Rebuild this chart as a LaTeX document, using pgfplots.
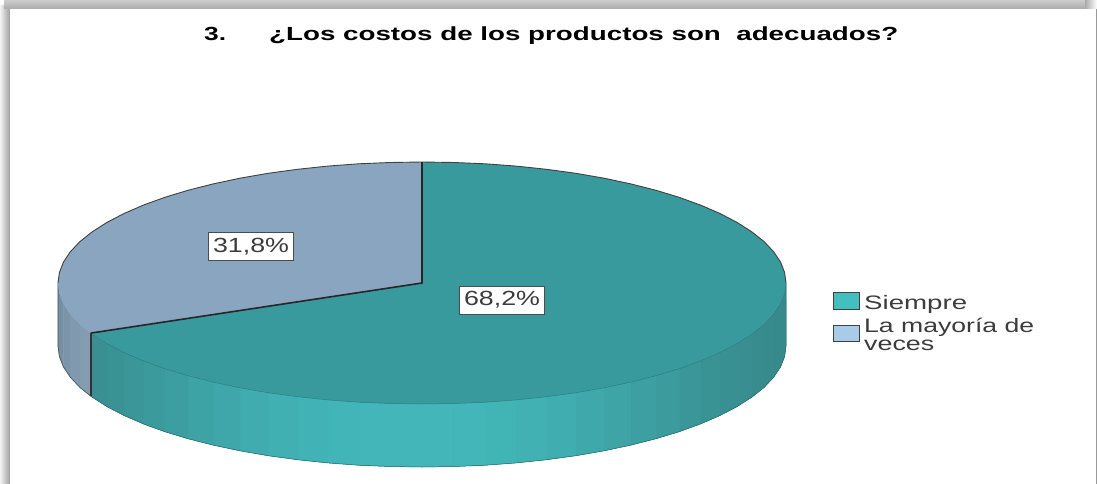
\documentclass[border=0pt]{standalone}
\usepackage{graphicx}
\usepackage{pgfplots}
\pgfplotsset{compat=1.18}
\usepackage{fontspec}
\setmainfont{Liberation Sans}
\definecolor{topTeal}{RGB}{57,154,158}
\definecolor{wallTeal}{RGB}{62,165,168}
\definecolor{topSlate}{RGB}{137,165,191}
\definecolor{keyTeal}{RGB}{67,191,192}
\definecolor{keyBlue}{RGB}{169,203,234}
\definecolor{inkGray}{RGB}{60,60,60}
\pgfplotsset{
  colormap={tealside}{rgb255=(55,136,138) rgb255=(66,182,185)},
  colormap={slateside}{rgb255=(108,132,151) rgb255=(131,156,178)},
}
\begin{document}
\begin{tikzpicture}
\begin{axis}[
  width=1097pt, height=484pt, scale only axis,
  xmin=0, xmax=1097, ymin=0, ymax=484, y dir=reverse,
  hide axis, clip=true,
  point meta min=0, point meta max=1,
]
% page frame and its soft shadow
\addplot[draw=none, left color=black!5, right color=black!38] coordinates {(0,6) (10,6) (10,484) (0,484)} --cycle;
\addplot[draw=none, top color=black!20, bottom color=black!33] coordinates {(4,0) (1085,0) (1085,9) (4,9)} --cycle;
\addplot[draw=none, left color=black!33, right color=white] coordinates {(1085,0) (1097,0) (1097,9) (1085,9)} --cycle;
\addplot[draw=none, fill=white] coordinates {(10,9) (1096,9) (1096,484) (10,484)} --cycle;
\addplot[draw=black!40, line width=1pt] coordinates {(1096.5,9) (1096.5,484)};

% wall of the 31,8% slice
\addplot[patch, patch type=rectangle, shader=faceted, faceted color=mapped color, colormap name=slateside, point meta=explicit]
 table[row sep=\\, meta=c] {
 x y c\\
 90.7 333.1 1\\ 79.9 324.4 1\\ 79.9 387.4 1\\ 90.7 396.1 1\\
 79.9 324.4 .85\\ 70.4 314.3 .85\\ 70.4 377.3 .85\\ 79.9 387.4 .85\\
 70.4 314.3 .65\\ 63.5 304 .65\\ 63.5 367 .65\\ 70.4 377.3 .65\\
 63.5 304 .45\\ 59.4 293.5 .45\\ 59.4 356.5 .45\\ 63.5 367 .45\\
 59.4 293.5 .2\\ 58 283 .2\\ 58 346 .2\\ 59.4 356.5 .2\\
};

% backing of the 68,2% wall, so that no gap shows between its facets
\addplot[draw=none, fill=wallTeal] coordinates {
 (786,300) (786,346) (784.6,356.5) (780.5,367) (773.6,377.3) (764.1,387.4) (751.9,397.1) (737.2,406.5) (720.2,415.4)
 (700.8,423.8) (679.4,431.6) (656,438.7) (630.8,445.1) (604,450.8) (575.8,455.7) (546.5,459.7) (516.2,462.9)
 (485.2,465.2) (453.7,466.5) (422,467) (390.3,466.5) (358.8,465.2) (327.8,462.9) (297.5,459.7) (268.2,455.7)
 (240,450.8) (213.2,445.1) (188,438.7) (164.6,431.6) (143.2,423.8) (123.8,415.4) (106.8,406.5) (92.1,397.1) (90.7,396.1)
 (90.7,340) (422,380)} --cycle;

% wall of the 68,2% slice, one facet per five degrees
\addplot[patch, patch type=rectangle, shader=faceted, faceted color=mapped color, colormap name=tealside, point meta=explicit]
 table[row sep=\\, meta=c] {
 x y c\\
 786 283 0\\ 784.6 293.5 0\\ 784.6 356.5 0\\ 786 346 0\\
 784.6 293.5 .02\\ 780.5 304 .02\\ 780.5 367 .02\\ 784.6 356.5 .02\\
 780.5 304 .04\\ 773.6 314.3 .04\\ 773.6 377.3 .04\\ 780.5 367 .04\\
 773.6 314.3 .06\\ 764.1 324.4 .06\\ 764.1 387.4 .06\\ 773.6 377.3 .06\\
 764.1 324.4 .09\\ 751.9 334.1 .09\\ 751.9 397.1 .09\\ 764.1 387.4 .09\\
 751.9 334.1 .13\\ 737.2 343.5 .13\\ 737.2 406.5 .13\\ 751.9 397.1 .13\\
 737.2 343.5 .17\\ 720.2 352.4 .17\\ 720.2 415.4 .17\\ 737.2 406.5 .17\\
 720.2 352.4 .22\\ 700.8 360.8 .22\\ 700.8 423.8 .22\\ 720.2 415.4 .22\\
 700.8 360.8 .3\\ 679.4 368.6 .3\\ 679.4 431.6 .3\\ 700.8 423.8 .3\\
 679.4 368.6 .4\\ 656 375.7 .4\\ 656 438.7 .4\\ 679.4 431.6 .4\\
 656 375.7 .5\\ 630.8 382.1 .5\\ 630.8 445.1 .5\\ 656 438.7 .5\\
 630.8 382.1 .6\\ 604 387.8 .6\\ 604 450.8 .6\\ 630.8 445.1 .6\\
 604 387.8 .7\\ 575.8 392.7 .7\\ 575.8 455.7 .7\\ 604 450.8 .7\\
 575.8 392.7 .8\\ 546.5 396.7 .8\\ 546.5 459.7 .8\\ 575.8 455.7 .8\\
 546.5 396.7 .88\\ 516.2 399.9 .88\\ 516.2 462.9 .88\\ 546.5 459.7 .88\\
 516.2 399.9 .94\\ 485.2 402.2 .94\\ 485.2 465.2 .94\\ 516.2 462.9 .94\\
 485.2 402.2 1\\ 453.7 403.5 1\\ 453.7 466.5 1\\ 485.2 465.2 1\\
 453.7 403.5 1\\ 422 404 1\\ 422 467 1\\ 453.7 466.5 1\\
 422 404 1\\ 390.3 403.5 1\\ 390.3 466.5 1\\ 422 467 1\\
 390.3 403.5 1\\ 358.8 402.2 1\\ 358.8 465.2 1\\ 390.3 466.5 1\\
 358.8 402.2 .97\\ 327.8 399.9 .97\\ 327.8 462.9 .97\\ 358.8 465.2 .97\\
 327.8 399.9 .93\\ 297.5 396.7 .93\\ 297.5 459.7 .93\\ 327.8 462.9 .93\\
 297.5 396.7 .87\\ 268.2 392.7 .87\\ 268.2 455.7 .87\\ 297.5 459.7 .87\\
 268.2 392.7 .78\\ 240 387.8 .78\\ 240 450.8 .78\\ 268.2 455.7 .78\\
 240 387.8 .68\\ 213.2 382.1 .68\\ 213.2 445.1 .68\\ 240 450.8 .68\\
 213.2 382.1 .58\\ 188 375.7 .58\\ 188 438.7 .58\\ 213.2 445.1 .58\\
 188 375.7 .48\\ 164.6 368.6 .48\\ 164.6 431.6 .48\\ 188 438.7 .48\\
 164.6 368.6 .38\\ 143.2 360.8 .38\\ 143.2 423.8 .38\\ 164.6 431.6 .38\\
 143.2 360.8 .3\\ 123.8 352.4 .3\\ 123.8 415.4 .3\\ 143.2 423.8 .3\\
 123.8 352.4 .22\\ 106.8 343.5 .22\\ 106.8 406.5 .22\\ 123.8 415.4 .22\\
 106.8 343.5 .15\\ 92.1 334.1 .15\\ 92.1 397.1 .15\\ 106.8 406.5 .15\\
 92.1 334.1 .12\\ 90.7 333.1 .12\\ 90.7 396.1 .12\\ 92.1 397.1 .12\\
};

% lower rim of the disc
\addplot[draw=black!30!topTeal, line width=0.5pt] coordinates {
 (786,283) (786,346) (784.6,356.5) (780.5,367) (773.6,377.3) (764.1,387.4) (751.9,397.1) (737.2,406.5) (720.2,415.4)
 (700.8,423.8) (679.4,431.6) (656,438.7) (630.8,445.1) (604,450.8) (575.8,455.7) (546.5,459.7) (516.2,462.9)
 (485.2,465.2) (453.7,466.5) (422,467) (390.3,466.5) (358.8,465.2) (327.8,462.9) (297.5,459.7) (268.2,455.7)
 (240,450.8) (213.2,445.1) (188,438.7) (164.6,431.6) (143.2,423.8) (123.8,415.4) (106.8,406.5) (92.1,397.1) (90.7,396.1)};
\addplot[draw=black!45!topSlate, line width=0.7pt] coordinates {
 (90.7,396.1) (79.9,387.4) (70.4,377.3) (63.5,367) (59.4,356.5) (58,346) (58,283)};

% top face, 68,2%
\addplot[draw=none, fill=topTeal] coordinates {
 (422,283) (422,162) (453.7,162.5) (485.2,163.8) (516.2,166.1) (546.5,169.3) (575.8,173.3) (604,178.2) (630.8,183.9)
 (656,190.3) (679.4,197.4) (700.8,205.2) (720.2,213.6) (737.2,222.5) (751.9,231.9) (764.1,241.6) (773.6,251.7)
 (780.5,262) (784.6,272.5) (786,283) (784.6,293.5) (780.5,304) (773.6,314.3) (764.1,324.4) (751.9,334.1) (737.2,343.5)
 (720.2,352.4) (700.8,360.8) (679.4,368.6) (656,375.7) (630.8,382.1) (604,387.8) (575.8,392.7) (546.5,396.7)
 (516.2,399.9) (485.2,402.2) (453.7,403.5) (422,404) (390.3,403.5) (358.8,402.2) (327.8,399.9) (297.5,396.7)
 (268.2,392.7) (240,387.8) (213.2,382.1) (188,375.7) (164.6,368.6) (143.2,360.8) (123.8,352.4) (106.8,343.5)
 (92.1,334.1) (90.7,333.1)} --cycle;
% top face, 31,8%
\addplot[draw=none, fill=topSlate] coordinates {
 (422,283) (90.7,333.1) (79.9,324.4) (70.4,314.3) (63.5,304) (59.4,293.5) (58,283) (59.4,272.5) (63.5,262) (70.4,251.7)
 (79.9,241.6) (92.1,231.9) (106.8,222.5) (123.8,213.6) (143.2,205.2) (164.6,197.4) (188,190.3) (213.2,183.9)
 (240,178.2) (268.2,173.3) (297.5,169.3) (327.8,166.1) (358.8,163.8) (390.3,162.5) (422,162)} --cycle;

% thin rim of the top face
\addplot[draw=black!18!topTeal, line width=0.5pt] coordinates {
 (786,283) (784.6,293.5) (780.5,304) (773.6,314.3) (764.1,324.4) (751.9,334.1) (737.2,343.5) (720.2,352.4) (700.8,360.8)
 (679.4,368.6) (656,375.7) (630.8,382.1) (604,387.8) (575.8,392.7) (546.5,396.7) (516.2,399.9) (485.2,402.2)
 (453.7,403.5) (422,404) (390.3,403.5) (358.8,402.2) (327.8,399.9) (297.5,396.7) (268.2,392.7) (240,387.8)
 (213.2,382.1) (188,375.7) (164.6,368.6) (143.2,360.8) (123.8,352.4) (106.8,343.5) (92.1,334.1) (90.7,333.1)};
\addplot[draw=black!75, line width=0.9pt] coordinates {
 (58,283) (59.4,272.5) (63.5,262) (70.4,251.7) (79.9,241.6) (92.1,231.9) (106.8,222.5) (123.8,213.6) (143.2,205.2)
 (164.6,197.4) (188,190.3) (213.2,183.9) (240,178.2) (268.2,173.3) (297.5,169.3) (327.8,166.1) (358.8,163.8)
 (390.3,162.5) (422,162) (453.7,162.5) (485.2,163.8) (516.2,166.1) (546.5,169.3) (575.8,173.3) (604,178.2) (630.8,183.9)
 (656,190.3) (679.4,197.4) (700.8,205.2) (720.2,213.6) (737.2,222.5) (751.9,231.9) (764.1,241.6) (773.6,251.7)
 (780.5,262) (784.6,272.5) (786,283)};

% slice boundaries
\addplot[draw=black!85, line width=1.6pt] coordinates {(422,162) (422,283) (90.7,333.1)};
\addplot[draw=black!80, line width=2.2pt] coordinates {(91,333.1) (91,396.1)};

% value labels
\node[draw=black!70, line width=1pt, fill=white, minimum width=85pt, minimum height=28pt, inner sep=0pt, text=inkGray]
  at (axis cs:251,246.5) {\resizebox{76pt}{\height}{\fontsize{20.5}{20.5}\selectfont 31,8\%}};
\node[draw=black!70, line width=1pt, fill=white, minimum width=85pt, minimum height=28pt, inner sep=0pt, text=inkGray]
  at (axis cs:502,300) {\resizebox{76pt}{\height}{\fontsize{20.5}{20.5}\selectfont 68,2\%}};

% title
\node[anchor=base west, text=black, inner sep=0pt] at (axis cs:204,41)
  {\resizebox{22pt}{\height}{\fontsize{19}{19}\selectfont\bfseries 3.}};
\node[anchor=base west, text=black, inner sep=0pt] at (axis cs:269,41)
  {\resizebox{629pt}{\height}{\fontsize{19}{19}\selectfont\bfseries ¿Los costos de los productos son\ \ adecuados?}};

% key
\addplot[draw=black!75, line width=1pt, fill=keyTeal] coordinates {(833.5,292.5) (859.5,292.5) (859.5,309) (833.5,309)} --cycle;
\addplot[draw=black!75, line width=1pt, fill=keyBlue] coordinates {(833.5,325) (859.5,325) (859.5,341) (833.5,341)} --cycle;
\node[anchor=base west, text=inkGray, inner sep=0pt] at (axis cs:864,309)
  {\resizebox{103pt}{\height}{\fontsize{19.5}{19.5}\selectfont Siempre}};
\node[anchor=base west, text=inkGray, inner sep=0pt] at (axis cs:864,332.5)
  {\resizebox{170pt}{\height}{\fontsize{19.5}{19.5}\selectfont La mayoría de}};
\node[anchor=base west, text=inkGray, inner sep=0pt] at (axis cs:864,350)
  {\resizebox{70pt}{\height}{\fontsize{19.5}{19.5}\selectfont veces}};
\end{axis}
\end{tikzpicture}
\end{document}
